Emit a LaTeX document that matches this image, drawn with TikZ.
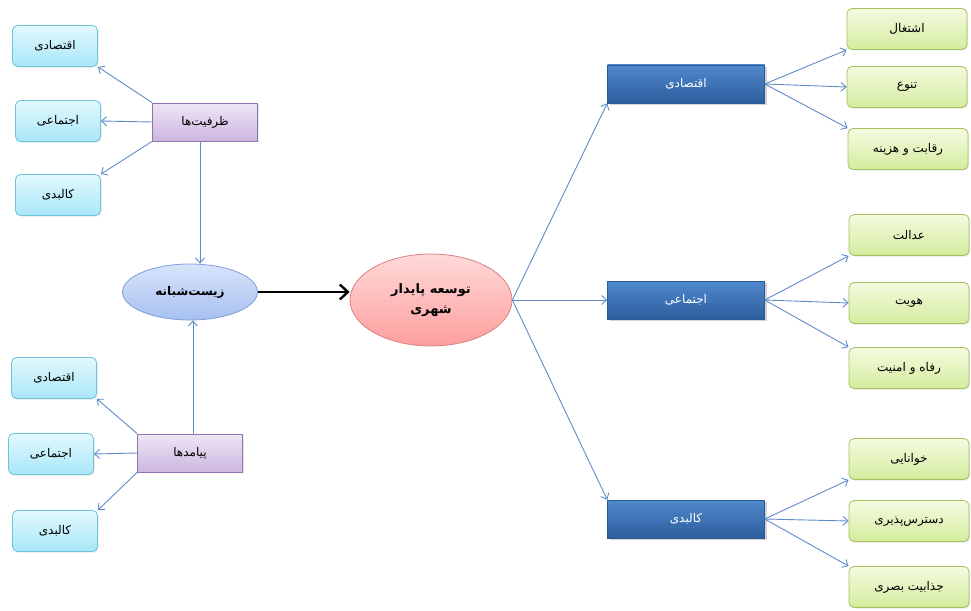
\documentclass[tikz,border=0pt]{standalone}
\usepackage{fontspec}
\newfontfamily\farsi[Script=Arabic]{DejaVu Sans}
\TeXXeTstate=1
\usetikzlibrary{arrows.meta,shadows,positioning,shapes.geometric}
\definecolor{linkblue}{HTML}{5F8BC8}
\definecolor{cyanline}{HTML}{6CC3DA}
\definecolor{cyantop}{HTML}{E2F8FD}
\definecolor{cyanbot}{HTML}{A9E7F9}
\definecolor{purpline}{HTML}{8E74B0}
\definecolor{purptop}{HTML}{EEE5F5}
\definecolor{purpbot}{HTML}{CCB6E0}
\definecolor{greenline}{HTML}{A3C15C}
\definecolor{greentop}{HTML}{F4FBE0}
\definecolor{greenbot}{HTML}{D5EC9E}
\definecolor{darkline}{HTML}{2C5A94}
\definecolor{darktop}{HTML}{5089CD}
\definecolor{darkbot}{HTML}{2D5D9D}
\definecolor{nightline}{HTML}{7F9FD9}
\definecolor{nighttop}{HTML}{D8E4FB}
\definecolor{nightbot}{HTML}{A7C0F0}
\definecolor{goalline}{HTML}{D98080}
\definecolor{goaltop}{HTML}{FFD9D9}
\definecolor{goalbot}{HTML}{FF9E9E}
\tikzset{
    leaf/.style = {draw=cyanline, rounded corners=5pt, line width=0.8pt,
        top color=cyantop, bottom color=cyanbot,
        minimum height=41pt, minimum width=85pt, align=center,
        drop shadow={opacity=0.2,shadow xshift=1pt,shadow yshift=-1pt}},
    group/.style = {draw=purpline, line width=0.8pt,
        top color=purptop, bottom color=purpbot,
        minimum height=38pt, minimum width=105pt, align=center,
        drop shadow={opacity=0.2,shadow xshift=1pt,shadow yshift=-1pt}},
    branch/.style = {draw=darkline, line width=0.5pt,
        top color=darktop, bottom color=darkbot,
        minimum height=38pt, minimum width=157pt, align=center, text=white,
        drop shadow={opacity=0.35,shadow xshift=2pt,shadow yshift=-2pt}},
    aim/.style = {draw=greenline, rounded corners=5pt, line width=0.8pt,
        top color=greentop, bottom color=greenbot,
        minimum height=41pt, minimum width=120pt, align=center,
        drop shadow={opacity=0.2,shadow xshift=1pt,shadow yshift=-1pt}},
    hub/.style = {ellipse, line width=0.8pt, align=center,
        font=\farsi\bfseries\fontsize{13}{20}\selectfont},
    link/.style = {draw=linkblue, line width=0.9pt, ->},
    fa/.style = {font=\farsi\fontsize{12}{14}\selectfont}
}
\newcommand{\rtl}[1]{\beginR #1\endR}

\begin{document}
\begin{tikzpicture}[x=1pt,y=-1pt,>={Straight Barb[length=5pt,width=9pt]}]
    \useasboundingbox (0,0) rectangle (971,610);
    % centre
    \node [hub, draw=nightline, top color=nighttop, bottom color=nightbot,
        minimum width=135pt, minimum height=56pt, font=\farsi\bfseries\fontsize{12}{14}\selectfont] (night) at (190,292) {\rtl{زیست‌شبانه}};
    \node [hub, draw=goalline, top color=goaltop, bottom color=goalbot,
        minimum width=162pt, minimum height=92pt] (goal) at (431,300) {\rtl{توسعه پایدار}\\\rtl{شهری}};
    \draw [line width=2.4pt, -{Straight Barb[length=8pt,width=15pt,line width=2.4pt]}] (night.east) -- (night.east -| goal.west);
    % capacities
    \node [group, fa] (cap) at (205,122) {\rtl{ظرفیت‌ها}};
    \node [leaf, fa] (capeco) at (55,46) {\rtl{اقتصادی}};
    \node [leaf, fa] (capsoc) at (58,121) {\rtl{اجتماعی}};
    \node [leaf, fa] (capphy) at (58,195) {\rtl{کالبدی}};
    \draw [link] (cap.north west) -- (capeco.south east);
    \draw [link] (cap.west) -- (capsoc.east);
    \draw [link] (cap.south west) -- (capphy.north east);
    \draw [link] (cap.south -| 200,0) -- (night.north -| 200,0);
    % outcomes
    \node [group, fa] (out) at (190,453) {\rtl{پیامدها}};
    \node [leaf, fa] (outeco) at (54,378) {\rtl{اقتصادی}};
    \node [leaf, fa] (outsoc) at (51,454) {\rtl{اجتماعی}};
    \node [leaf, fa] (outphy) at (55,531) {\rtl{کالبدی}};
    \draw [link] (out.north west) -- (outeco.south east);
    \draw [link] (out.west) -- (outsoc.east);
    \draw [link] (out.south west) -- (outphy.north east);
    \draw [link] (out.north -| 193,0) -- (night.south -| 193,0);
    % dimensions
    \node [branch, fa] (eco) at (686,84) {\rtl{اقتصادی}};
    \node [branch, fa] (soc) at (686,300) {\rtl{اجتماعی}};
    \node [branch, fa] (phy) at (686,519) {\rtl{کالبدی}};
    \draw [link] (goal.east) -- (eco.south west);
    \draw [link] (goal.east) -- (soc.west);
    \draw [link] (goal.east) -- (phy.north west);
    % economic
    \node [aim, fa] (job) at (907,29) {\rtl{اشتغال}};
    \node [aim, fa] (div) at (907,87) {\rtl{تنوع}};
    \node [aim, fa] (cost) at (908,149) {\rtl{رقابت و هزینه}};
    \foreach \n/\a in {job/south west,div/west,cost/north west} \draw [link] (eco.east) -- (\n.\a);
    % social
    \node [aim, fa] (just) at (909,235) {\rtl{عدالت}};
    \node [aim, fa] (iden) at (909,303) {\rtl{هویت}};
    \node [aim, fa] (safe) at (909,368) {\rtl{رفاه و امنیت}};
    \foreach \n/\a in {just/south west,iden/west,safe/north west} \draw [link] (soc.east) -- (\n.\a);
    % physical
    \node [aim, fa] (read) at (909,459) {\rtl{خوانایی}};
    \node [aim, fa] (acc) at (909,521) {\rtl{دسترس‌پذیری}};
    \node [aim, fa] (view) at (909,587) {\rtl{جذابیت بصری}};
    \foreach \n/\a in {read/south west,acc/west,view/north west} \draw [link] (phy.east) -- (\n.\a);
\end{tikzpicture}
\end{document}
